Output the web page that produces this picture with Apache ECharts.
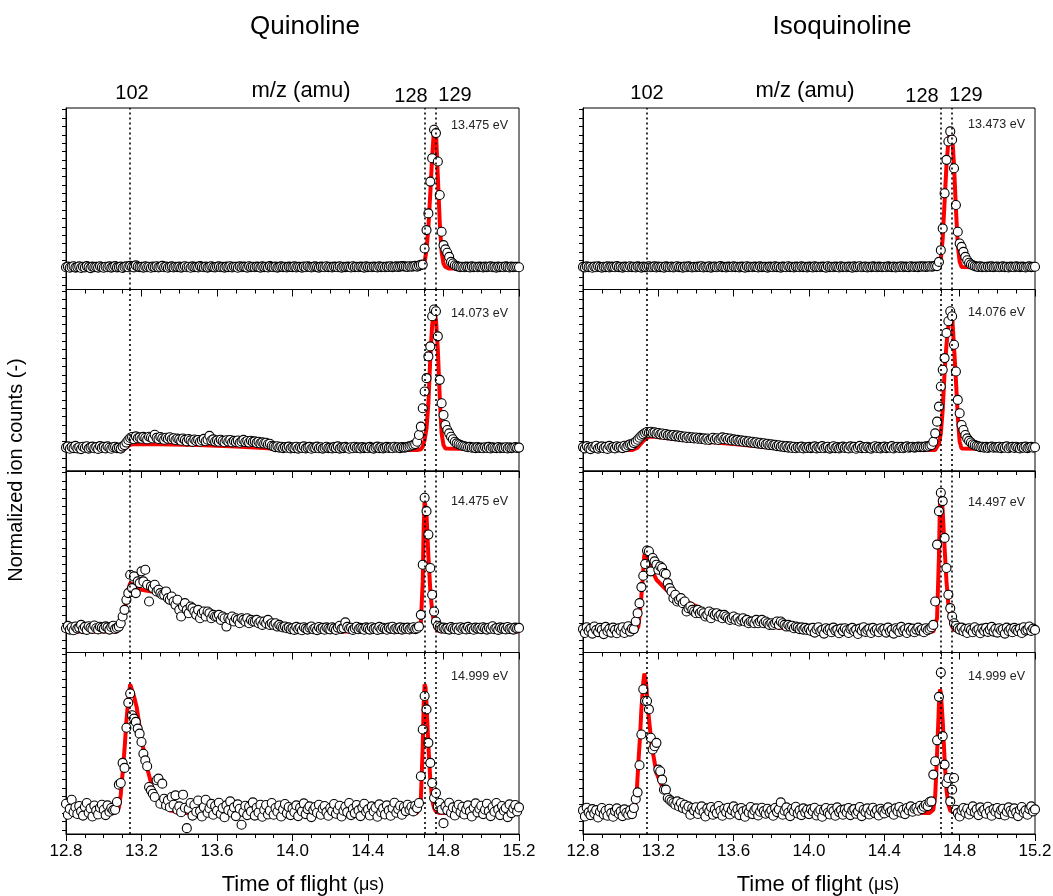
<!DOCTYPE html>
<html>
<head>
<meta charset="utf-8">
<title>Quinoline / Isoquinoline TOF</title>
<script src="https://cdn.jsdelivr.net/npm/echarts@6/dist/echarts.min.js"></script>
<style>
  html, body { margin: 0; padding: 0; background: #fff; }
  #chart { width: 1053px; height: 896px; }
</style>
</head>
<body>
<div id="chart"></div>
<script>
// time of flight sampling (us): first point and spacing of the measured points
var tofStart = 12.8, tofStep = 0.01;

// axis ticks / markers
var yTickValues = [-10,-5,0,5,10,15,20,25,30,35,40,45,50,55,60,65,70,75,80,85,90,95];
var markerTimes = [13.145, 14.695, 14.755];
var quinEnergies = ['13.475 eV', '14.073 eV', '14.475 eV', '14.999 eV'];
var isoEnergies = ['13.473 eV', '14.076 eV', '14.497 eV', '14.999 eV'];

// ---- Quinoline, measured ion counts (one row = 0.2 us) ----
var quin13475 = [
  0.8,1.2,0.5,1.0,1.4,0.6,0.9,1.3,0.4,1.1,0.7,1.5,0.9,0.3,1.2,0.8,1.0,0.6,1.4,0.9,
  0.5,1.1,0.8,1.3,0.6,1.0,1.5,0.7,0.9,1.2,0.4,1.0,1.3,0.8,1.6,1.1,0.7,1.9,1.2,0.9,
  1.0,0.6,1.3,0.8,1.1,0.5,1.2,0.9,1.4,0.7,1.0,1.6,0.8,1.2,0.5,1.0,1.3,0.7,1.1,0.9,
  1.2,0.6,1.0,1.4,0.8,1.1,0.5,1.3,0.9,1.0,0.7,1.5,1.1,0.8,1.2,0.6,1.0,1.4,0.9,0.7,
  1.1,1.3,0.8,1.0,0.6,1.2,0.9,1.4,0.7,1.1,1.0,0.5,1.3,0.8,1.2,1.0,0.6,1.4,0.9,1.1,
  0.8,1.2,1.0,0.6,1.3,0.9,1.1,0.7,1.5,1.0,0.8,1.2,0.6,1.0,1.3,0.9,1.1,0.7,1.2,1.0,
  0.9,1.3,0.7,1.1,1.0,0.6,1.2,0.8,1.4,1.0,0.7,1.1,1.3,0.9,0.6,1.2,1.0,0.8,1.4,0.9,
  1.1,0.7,1.2,1.0,0.8,1.3,0.6,1.1,0.9,1.2,1.0,0.7,1.4,0.9,1.1,0.8,1.2,1.0,0.6,1.3,
  0.9,1.1,0.8,1.2,1.0,0.7,1.3,0.9,1.1,0.8,1.2,1.0,1.4,0.9,1.1,1.3,1.0,1.2,1.5,1.3,
  1.2,1.0,1.4,1.1,1.3,1.6,1.2,1.8,2.2,2.4,12,23,33,52,66,83,81,64,44,22,
  14,11.5,9.5,7,4,3,2,1.5,1.2,0.9,1.1,0.8,1.2,1.0,0.7,1.3,0.9,1.1,0.8,1.2,
  1.0,0.7,1.2,0.9,1.1,1.3,0.8,1.0,0.6,1.2,0.9,1.1,0.8,1.3,1.0,0.7,1.2,0.9,1.1,1.0,
  0.8
];
var quin14073 = [
  1.5,2.2,0.8,1.9,1.2,2.5,1.0,1.7,0.6,2.0,1.4,2.3,0.9,1.6,2.1,1.1,1.8,0.7,2.4,1.3,
  1.9,1.0,2.2,1.4,0.8,1.7,2.0,1.2,1.5,0.9,2.1,3.0,4.5,6.0,7.2,7.8,6.5,8.2,7.0,7.6,
  6.8,7.9,7.2,6.4,8.0,7.5,6.9,9.2,7.3,6.6,7.8,7.0,6.2,7.4,6.8,7.7,6.5,7.1,6.0,6.9,
  6.4,5.6,6.9,6.1,5.2,6.6,5.8,4.9,6.3,5.5,6.0,5.0,5.9,6.7,5.3,6.2,8.5,5.7,6.4,5.1,
  5.8,5.0,6.2,5.4,4.7,5.9,5.1,6.0,4.6,5.5,4.9,5.7,4.4,5.2,6.1,4.8,5.4,4.5,5.6,4.9,
  5.2,4.3,5.0,4.0,4.6,3.9,4.4,3.5,3.8,2.6,2.2,1.8,2.3,1.5,2.0,1.2,1.8,1.4,2.1,1.0,
  1.6,1.2,2.0,0.9,1.7,1.3,2.2,1.0,1.5,1.9,0.8,1.6,1.3,2.1,1.1,1.7,0.9,1.4,2.0,1.2,
  1.5,1.0,1.8,1.3,2.2,0.9,1.6,1.2,1.9,1.4,0.8,1.7,1.1,2.0,1.3,1.6,1.0,1.8,1.2,1.5,
  1.1,1.9,1.4,0.9,1.6,2.1,1.2,1.7,1.0,1.5,1.9,1.3,1.6,1.1,2.0,1.4,1.7,1.2,1.8,1.5,
  1.6,1.9,2.2,2.6,3.0,3.6,5.0,9.0,14,25,35,43,56,62,80,84,83,68,42,28,
  21,15,12,10,8,6.5,5,4,3.5,3,2.6,2.3,2.0,1.7,1.9,1.4,1.6,1.2,1.8,1.3,
  1.5,1.1,1.7,1.3,1.9,1.0,1.6,1.4,1.2,1.8,1.1,1.5,1.3,1.7,1.0,1.6,1.2,1.4,1.8,1.3,
  1.5
];
var quin14475 = [
  2.0,3.4,1.2,2.6,0.8,3.0,1.8,2.4,4.0,1.5,2.8,1.0,3.2,2.2,1.6,3.6,2.0,1.3,2.9,2.4,
  1.8,3.1,2.5,1.2,2.8,3.5,1.6,2.2,3.0,5.0,9.0,13,19,23,34,26,33,23,30,29,
  36,30,37,28,18,27,26,28,24,25,23,22,22,24,20,19,21,18,16,19,
  13,9,15,17,13,11,15,14,12,10,13,8,11,12,9,12,11,8,10,9,
  9,10,7,9,8,3,8,7,9,6,8,7,5,8,7,6,8,5,7,6,
  6,7,5,6,4,6,5,7,4,5,4,5,3,4,3,2.5,3,2,2.5,1.5,
  2.0,1.0,2.8,1.5,2.3,0.8,2.6,1.8,1.2,2.4,3.0,1.4,2.0,0.9,2.7,1.6,2.2,1.1,2.5,1.8,
  1.3,2.6,1.9,1.0,2.4,3.5,1.6,2.1,5.5,2.8,1.7,2.3,1.0,2.0,2.9,1.4,2.2,1.8,1.1,2.5,
  1.9,1.2,2.6,1.6,2.1,1.0,2.8,1.4,2.3,1.7,1.1,2.4,1.8,2.9,1.3,2.0,1.6,2.5,1.2,2.2,
  1.7,2.4,1.3,2.0,2.6,1.5,1.9,3.0,10,40,80,72,58,38,22,12,6.0,3.5,2.6,1.8,
  2.4,1.6,2.1,1.2,2.7,1.9,1.4,2.3,1.0,2.6,1.7,2.2,1.3,2.8,1.6,2.0,1.1,2.4,1.8,2.3,
  1.5,2.6,1.9,1.2,2.3,1.7,3.2,1.4,2.1,1.0,2.5,1.8,2.2,1.3,2.7,1.6,2.0,1.2,2.4,1.9,
  2.2
];
var quin14999 = [
  5.6,-1.0,2.5,8.0,0.5,3.5,-0.5,4.2,1.0,-1.5,3.8,6.0,0.2,2.8,-2.0,4.5,1.5,-0.8,3.2,5.0,
  2.0,-1.2,4.6,0.8,3.0,1.8,2.0,6.6,17,18,30,27,51,66,71.5,58.5,56.5,54.5,50.5,47.5,
  42.5,35.5,31.5,28,15.6,13.6,11.6,9.6,19.6,20.6,5.6,17.6,8.6,4.6,7.6,3.5,9.6,5.0,10.6,2.0,
  4.0,0.5,11.0,3.2,-9.0,2.5,6.0,-1.5,4.8,0.8,7.5,1.2,-2.0,3.6,8.0,0.2,2.8,5.5,-1.0,4.2,
  1.5,6.2,-0.5,3.0,-2.5,4.6,1.8,7.0,0.2,3.4,-1.8,5.2,2.6,-7.0,0.6,4.4,-1.2,3.8,1.0,6.4,
  -1.5,3.2,0.4,5.0,-2.2,2.0,4.8,-0.8,1.6,6.0,-1.0,3.0,0.8,4.5,-2.0,2.2,5.4,0.0,3.6,-1.2,
  2.8,0.5,4.6,-1.8,3.2,1.0,5.8,-0.6,2.4,4.0,-2.4,1.8,3.6,0.2,5.0,-1.0,2.6,4.2,0.6,-1.6,
  3.0,1.2,5.4,-0.4,2.0,4.4,-2.0,1.4,3.8,0.6,6.0,-1.2,2.6,0.0,4.8,1.6,-1.8,3.4,5.6,0.8,
  2.2,-1.4,4.0,1.0,3.2,-2.2,5.2,0.4,2.8,-0.8,4.6,1.6,-1.6,3.0,6.2,0.2,2.4,4.4,-1.0,3.6,
  1.2,5.0,2.0,3.8,1.0,4.4,3.0,6.0,22,50,70,62,42,30,18,9,12,4,6,2,
  -6.0,4.0,1.8,6.2,0.2,3.4,-1.4,2.6,5.0,0.6,3.8,-0.8,2.2,4.6,1.0,-2.0,3.2,5.8,0.4,2.6,
  4.4,-0.6,2.0,5.6,1.2,-1.8,3.6,0.8,6.0,2.2,-1.2,4.2,1.4,3.0,-2.4,5.2,0.0,2.8,4.8,1.0,
  3.4
];

// ---- Quinoline, fitted curves [tof, counts] ----
var quinFit13475 = [[12.8,0],[14.68,0],[14.69,0.5],[14.70,4],[14.71,11],[14.72,25],[14.73,45],[14.74,67],[14.75,84],[14.755,85.5],[14.76,82],[14.77,55],[14.78,28],[14.79,10],[14.80,3],[14.81,1],[14.82,0.3],[14.83,0],[15.2,0]];
var quinFit14073 = [[12.8,0],[13.10,0],[13.12,1.5],[13.14,3.2],[13.16,3.6],[13.3,3.5],[13.5,3.0],[13.7,2.2],[13.85,1.2],[13.95,0.4],[14.05,0],[14.66,0],[14.68,0.5],[14.69,2],[14.70,6],[14.71,13],[14.72,28],[14.73,55],[14.74,75],[14.75,84],[14.76,78],[14.77,60],[14.78,32],[14.79,10],[14.80,3],[14.81,1],[14.82,0],[15.2,0]];
var quinFit14475 = [[12.8,0],[13.07,0],[13.09,2],[13.10,6],[13.11,12],[13.12,19],[13.13,25],[13.14,29],[13.15,29],[13.20,25],[13.30,23],[13.40,17],[13.475,14],[13.55,10],[13.65,8],[13.75,6],[13.83,5],[13.90,3.5],[13.95,1.5],[13.98,0.3],[14.0,0],[14.66,0],[14.67,0.5],[14.68,5],[14.69,30],[14.695,62],[14.70,78],[14.705,79],[14.71,70],[14.72,45],[14.73,25],[14.74,12],[14.75,5],[14.76,2],[14.77,0.5],[14.78,0],[15.2,0]];
var quinFit14999 = [[12.8,0],[13.06,0],[13.07,0.5],[13.08,3],[13.09,11],[13.10,24],[13.11,38],[13.12,55],[13.13,68],[13.14,77],[13.145,77.5],[13.15,76],[13.16,70],[13.175,63],[13.20,44],[13.23,27],[13.26,14],[13.30,5.5],[13.35,1.6],[13.41,0],[14.66,0],[14.67,1],[14.68,8],[14.69,40],[14.695,65],[14.70,77],[14.705,75],[14.71,65],[14.72,40],[14.73,20],[14.74,8],[14.75,3],[14.76,1],[14.78,0],[15.2,0]];

// ---- Isoquinoline, measured ion counts ----
var iso13473 = [
  1.0,0.7,1.3,0.9,1.1,0.5,1.2,0.8,1.4,1.0,0.6,1.1,0.9,1.3,0.7,1.2,1.0,0.8,1.5,0.9,
  1.1,0.6,1.2,1.0,0.8,1.4,0.9,1.1,0.7,1.3,1.0,0.6,1.2,0.9,1.1,1.4,0.8,1.0,1.3,0.7,
  1.2,0.9,1.1,0.6,1.3,1.0,0.8,1.2,0.7,1.1,1.4,0.9,1.0,0.6,1.2,0.8,1.3,1.1,0.7,1.0,
  0.8,1.2,1.0,1.4,0.7,1.1,0.9,1.3,0.6,1.0,1.2,0.8,1.1,1.5,0.9,1.0,0.7,1.2,1.0,0.8,
  1.3,0.9,1.1,0.7,1.2,1.0,0.6,1.4,0.9,1.1,0.8,1.2,1.0,0.7,1.3,0.9,1.1,1.0,0.6,1.2,
  1.0,0.8,1.3,0.9,1.1,0.6,1.2,1.0,0.8,1.4,0.9,1.1,0.7,1.2,1.0,0.8,1.3,0.9,1.1,0.7,
  1.2,1.0,0.7,1.3,0.9,1.1,0.8,1.2,1.0,0.6,1.4,0.9,1.1,0.8,1.2,1.0,0.7,1.3,0.9,1.1,
  0.8,1.2,1.0,0.6,1.3,0.9,1.1,1.4,0.8,1.0,1.2,0.7,1.1,0.9,1.3,1.0,0.8,1.2,1.0,0.9,
  1.1,0.8,1.3,1.0,0.9,1.2,0.7,1.1,1.0,1.3,0.8,1.2,1.0,0.9,1.4,1.1,1.0,1.2,0.9,1.3,
  1.1,1.3,1.0,1.2,1.4,1.1,1.3,1.6,1.5,4,11,24,45,65,76,82,77,60,38,22,
  15,13,10,7,5,3.5,2.5,2,1.5,1.2,1.0,1.3,0.9,1.1,0.8,1.2,1.0,1.3,0.9,1.1,
  1.2,0.8,1.0,1.3,0.9,1.1,0.7,1.2,1.0,0.8,1.3,1.1,0.9,1.2,1.0,0.7,1.1,1.3,0.9,1.0,
  1.1
];
var iso14076 = [
  1.8,1.0,2.4,1.3,0.6,2.0,1.5,2.6,0.9,1.7,2.2,1.1,1.9,0.7,2.5,1.4,1.8,1.0,2.3,1.6,
  2.0,1.2,2.6,1.8,2.8,3.4,3.0,4.2,5.0,6.2,7.4,8.6,9.4,10.2,10.8,10.4,11.0,10.2,10.6,9.8,
  10.2,9.4,9.9,9.0,9.6,8.8,9.2,8.5,9.0,8.2,8.8,7.9,8.4,7.6,8.1,7.3,8.0,7.2,7.7,7.0,
  7.5,6.8,7.3,6.6,7.0,6.2,6.9,6.0,6.6,7.4,6.3,7.1,6.0,6.8,7.6,6.5,7.2,6.2,6.9,5.8,
  6.4,5.6,6.1,5.3,5.8,5.0,5.6,4.8,5.3,4.5,5.0,4.2,4.7,3.9,4.4,3.6,4.1,3.3,3.8,3.0,
  3.5,2.8,3.2,2.4,2.9,2.1,2.6,1.8,2.4,1.5,2.2,1.3,2.0,1.1,1.8,1.4,2.1,1.0,1.7,1.3,
  1.9,1.2,1.6,2.2,1.0,1.8,1.3,2.4,1.1,1.7,2.0,0.9,1.5,2.3,1.2,1.8,1.0,1.6,2.1,1.3,
  1.7,1.0,2.2,1.4,1.9,0.8,1.6,2.5,1.2,1.8,1.1,2.0,1.5,0.9,1.7,2.3,1.3,1.9,1.0,1.6,
  2.1,1.2,1.8,1.4,2.4,1.0,1.7,2.0,1.3,1.9,1.1,1.6,2.2,1.4,1.8,2.0,1.5,1.7,2.1,1.8,
  2.0,1.8,2.2,2.0,2.5,3.0,5.0,10,17,26,38,48,55,70,77,83,80,63,47,30,
  22,15,12,9,7,5.5,4.5,3.5,3.0,2.5,2.2,1.8,2.0,1.5,1.9,1.3,1.7,2.1,1.4,1.8,
  1.5,2.0,1.2,1.8,1.4,2.2,1.1,1.7,1.9,1.3,2.0,1.5,1.0,1.8,1.4,2.1,1.2,1.6,1.9,1.4,
  1.7
];
var iso14497 = [
  1.5,-0.8,2.6,0.4,1.8,-1.2,3.0,0.9,-0.3,2.2,1.1,-1.5,2.8,0.2,1.6,-0.6,2.4,1.0,-1.0,1.9,
  0.5,2.6,-0.8,1.4,3.2,0.0,1.8,1.5,6.0,11,17,26.6,33.4,40.4,48.5,48,36,44,42,40,
  37,39,38,35,34.5,29,26,24,20,22,18,19,20,17,18,12,14,15,13,12,
  11,13,11,12,11,9,10,12,8,11,10,11,9,10,8,10,9,8,7,8,
  9,7,8,6,7,8,6,7,5,6,6,5,7,5,6,7,5,6,5,4,
  5,4,5,6,4,6,5,4,3,4,3,3.5,2,3,2.5,1.5,2.5,1.2,2.2,1.0,
  1.8,0.4,2.2,-0.6,1.4,2.6,0.2,1.0,-1.2,2.0,0.8,1.6,-0.4,2.4,0.6,1.2,-1.0,1.8,0.3,2.0,
  0.8,-0.8,1.6,2.2,0.2,1.2,-1.4,1.8,0.6,2.6,-0.2,1.0,1.8,-0.8,2.2,0.4,1.4,-0.4,2.0,0.8,
  1.6,-0.6,2.4,0.2,1.2,-1.2,2.0,1.0,-0.2,2.8,0.6,1.4,-0.8,2.2,0.4,1.8,-0.4,1.2,2.4,0.6,
  1.4,-0.4,2.0,0.8,1.6,2.6,4.0,18,52,72,83,78,56,38,22,14,9,5,3.5,2.0,
  1.2,2.4,0.2,1.6,-0.8,2.0,1.0,-0.4,2.6,0.6,1.4,-1.0,1.8,0.4,2.2,-0.2,1.2,2.8,0.0,1.6,
  -0.6,2.0,0.8,1.4,-1.2,2.4,0.4,1.6,-0.4,2.2,1.0,0.2,1.8,-0.8,2.6,0.6,1.2,3.0,0.4,1.8,
  1.0
];
var iso14999 = [
  1.6,-2.0,3.2,0.4,-1.2,2.4,-0.2,1.8,-2.6,0.8,3.0,-0.8,1.4,-1.6,2.6,0.0,-2.2,1.2,2.8,-0.4,
  1.0,-1.8,2.2,0.2,-1.0,1.6,-0.6,3.0,8.4,12.4,28.6,47,74,67,67,62,45,38,40,42,
  26,25,20,14,14,9,8,7,6,5,7,4,6,3,5,2,4,-1,3,1.5,
  3.5,-0.5,2.0,4.0,0.5,-2.0,2.8,1.0,3.6,-1.0,2.2,0.0,4.2,1.4,-1.6,2.6,0.6,3.2,-0.8,1.8,
  4.0,0.2,2.4,-1.2,3.0,1.0,-2.2,2.0,0.4,3.6,-0.6,1.6,2.8,-1.4,0.8,3.2,1.2,-0.4,2.6,0.0,
  1.8,-1.6,3.0,0.6,2.2,6.4,-1.0,1.4,3.4,0.2,-1.8,2.6,1.0,3.8,-0.2,1.6,-1.2,2.8,0.4,2.0,
  -0.6,2.4,1.0,3.2,-1.4,0.8,2.0,-2.2,1.6,3.0,0.2,-0.8,2.6,1.2,-1.6,3.4,0.6,1.8,-1.0,2.2,
  0.4,3.0,-1.2,1.6,2.4,-0.4,1.0,3.6,-1.8,2.0,0.6,2.8,-0.8,1.4,3.2,0.0,1.8,-1.4,2.6,1.2,
  -0.2,2.2,3.4,0.6,1.4,-1.0,2.8,1.0,3.6,0.2,2.0,-0.6,3.0,1.6,4.0,0.8,2.6,3.2,1.4,4.4,
  2.4,3.8,5.0,4.2,6.6,7.0,23,31,43.5,69.5,84,46,29,18,21,7,14,21,2,0.0,
  -2.0,1.6,3.0,0.2,2.6,-0.8,1.4,4.0,0.6,2.2,-1.2,3.4,1.0,2.0,-0.4,3.8,1.2,-1.6,2.4,0.8,
  3.0,-0.6,1.8,2.6,-1.4,0.8,3.4,1.4,-0.2,2.8,0.4,-1.8,2.0,3.6,0.2,1.6,-1.0,2.4,4.0,1.0,
  2.2
];

// ---- Isoquinoline, fitted curves ----
var isoFit13473 = [[12.8,0],[14.68,0],[14.69,1.5],[14.70,6],[14.71,18],[14.72,40],[14.73,62],[14.74,76],[14.75,83],[14.755,83.5],[14.76,80],[14.77,62],[14.78,36],[14.79,14],[14.80,4],[14.81,1],[14.82,0],[15.2,0]];
var isoFit14076 = [[12.8,0],[13.06,0],[13.09,1.5],[13.12,5.5],[13.15,8],[13.18,8],[13.3,6.5],[13.45,5.0],[13.6,3.6],[13.75,2.0],[13.9,0.6],[14.0,0],[14.67,0],[14.68,0.5],[14.69,4],[14.70,10],[14.71,24],[14.72,47],[14.73,63],[14.74,74],[14.75,83],[14.755,84],[14.76,80],[14.77,62],[14.78,42],[14.79,20],[14.80,5],[14.81,1],[14.82,0],[15.2,0]];
var isoFit14497 = [[12.8,0],[13.08,0],[13.094,3],[13.107,17],[13.118,33],[13.125,45],[13.13,48],[13.14,46],[13.156,39],[13.19,31],[13.26,23],[13.35,18],[13.44,13],[13.53,9],[13.62,6],[13.79,3],[13.97,1],[14.1,0],[14.66,0],[14.67,1],[14.68,8],[14.69,45],[14.695,75],[14.70,82],[14.705,80],[14.71,72],[14.72,50],[14.73,30],[14.74,16],[14.75,8],[14.76,3],[14.77,1],[14.78,0],[15.2,0]];
var isoFit14999 = [[12.8,0],[13.06,0],[13.076,3],[13.085,12],[13.094,30],[13.103,46],[13.11,62],[13.12,78],[13.126,83.5],[13.135,77],[13.147,60],[13.165,40],[13.19,24],[13.227,14],[13.28,6],[13.35,1],[13.42,0],[14.64,0],[14.66,2],[14.67,10],[14.68,35],[14.69,65],[14.696,74],[14.70,72],[14.71,55],[14.72,32],[14.73,14],[14.74,5],[14.75,1.5],[14.76,0.5],[14.78,0],[15.2,0]];

function withTime(values) {
    return values.map(function(v, i) {
        return [+(tofStart + i * tofStep).toFixed(2), v];
    });
}

var font = '"Liberation Sans", Arial, Helvetica, sans-serif';
var colLeft = [66, 583], colWidth = [453, 452];
var rowTop = [108, 289.5, 471, 652.5], rowHeight = 181.5;

var panels = [
    {col: 0, row: 0, data: quin13475, fit: quinFit13475, label: quinEnergies[0], ly: 126},
    {col: 0, row: 1, data: quin14073, fit: quinFit14073, label: quinEnergies[1], ly: 314},
    {col: 0, row: 2, data: quin14475, fit: quinFit14475, label: quinEnergies[2], ly: 502},
    {col: 0, row: 3, data: quin14999, fit: quinFit14999, label: quinEnergies[3], ly: 677},
    {col: 1, row: 0, data: iso13473, fit: isoFit13473, label: isoEnergies[0], ly: 125},
    {col: 1, row: 1, data: iso14076, fit: isoFit14076, label: isoEnergies[1], ly: 313},
    {col: 1, row: 2, data: iso14497, fit: isoFit14497, label: isoEnergies[2], ly: 503},
    {col: 1, row: 3, data: iso14999, fit: isoFit14999, label: isoEnergies[3], ly: 677}
];

var grids = [], xAxes = [], yAxes = [], series = [], texts = [];

panels.forEach(function(p, i) {
    grids.push({
        left: colLeft[p.col], width: colWidth[p.col],
        top: rowTop[p.row], height: rowHeight,
        show: true, borderColor: '#000', borderWidth: 1,
        outerBoundsMode: 'none'
    });
    xAxes.push({
        gridIndex: i, type: 'value', min: 12.8, max: 15.2, interval: 0.4,
        axisLine: {onZero: false, lineStyle: {color: '#000', width: 1}},
        axisTick: {inside: false, length: 7, lineStyle: {color: '#000'}},
        minorTick: {show: true, splitNumber: 4, length: 4, lineStyle: {color: '#000'}},
        splitLine: {show: false},
        axisLabel: {
            show: p.row === 3, color: '#000', fontSize: 17, fontFamily: font, margin: 9,
            formatter: function(v) { return v.toFixed(1); }
        }
    });
    yAxes.push({
        gridIndex: i, type: 'value', min: -12.5, max: 96,
        axisLine: {onZero: false, lineStyle: {color: '#000', width: 1}},
        axisTick: {inside: false, length: 4, customValues: yTickValues, lineStyle: {color: '#000'}},
        axisLabel: {show: false},
        splitLine: {show: false}
    });
    series.push({
        type: 'line', xAxisIndex: i, yAxisIndex: i, data: p.fit,
        showSymbol: false, symbol: 'none', z: 2,
        lineStyle: {color: '#ff0000', width: 4},
        markLine: {
            silent: true, symbol: ['none', 'none'], label: {show: false},
            lineStyle: {color: '#000', width: 1.6, type: [2, 3]},
            data: markerTimes.map(function(t) { return {xAxis: t}; })
        }
    });
    series.push({
        type: 'scatter', xAxisIndex: i, yAxisIndex: i, data: withTime(p.data),
        symbol: 'circle', symbolSize: 9, z: 3,
        itemStyle: {color: '#fff', borderColor: '#000', borderWidth: 1.1, opacity: 1}
    });
    texts.push({
        type: 'text', x: colLeft[p.col] + 385, y: p.ly,
        style: {text: p.label, font: '12.5px ' + font, fill: '#222', align: 'left', verticalAlign: 'middle'}
    });
});

function label(x, y, text, size) {
    return {type: 'text', x: x, y: y,
        style: {text: text, font: size + 'px ' + font, fill: '#000', align: 'center', verticalAlign: 'middle'}};
}

texts.push(label(305, 27, 'Quinoline', 26));
texts.push(label(842, 27, 'Isoquinoline', 26));
texts.push(label(301, 91, 'm/z (amu)', 22));
texts.push(label(805, 91, 'm/z (amu)', 22));
texts.push(label(132, 93, '102', 20));
texts.push(label(411, 96, '128', 20));
texts.push(label(455, 95, '129', 20));
texts.push(label(647, 93, '102', 20));
texts.push(label(922, 96, '128', 20));
texts.push(label(966, 95, '129', 20));
texts.push({
    type: 'text', x: 16, y: 470, rotation: Math.PI / 2,
    style: {text: 'Normalized ion counts (-)', font: '20px ' + font, fill: '#000', align: 'center', verticalAlign: 'middle'}
});
[303, 818].forEach(function(cx) {
    texts.push({
        type: 'text', x: cx, y: 885,
        style: {
            text: '{a|Time of flight }{b|(μs)}', align: 'center', verticalAlign: 'middle',
            rich: {
                a: {fontSize: 22, fontFamily: font, fill: '#000'},
                b: {fontSize: 18, fontFamily: font, fill: '#000'}
            }
        }
    });
});

var myChart = echarts.init(document.getElementById('chart'));
myChart.setOption({
    animation: false,
    backgroundColor: '#fff',
    grid: grids,
    xAxis: xAxes,
    yAxis: yAxes,
    series: series,
    graphic: texts
});
</script>
</body>
</html>
